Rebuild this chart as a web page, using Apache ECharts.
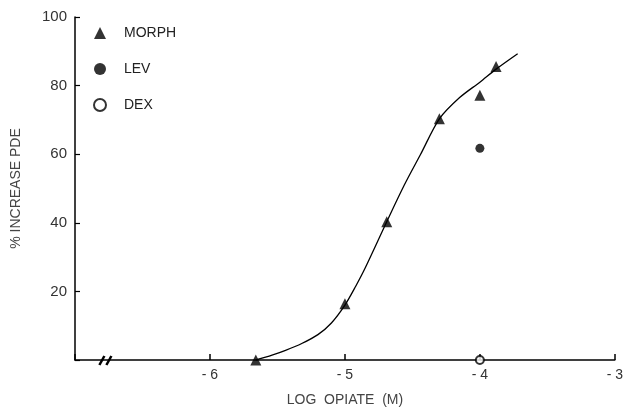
<!DOCTYPE html>
<html><head><meta charset="utf-8">
<script src="https://cdn.jsdelivr.net/npm/echarts@6/dist/echarts.min.js"></script>
<style>html,body{margin:0;padding:0;background:#fff}#c{width:626px;height:412px}</style>
</head><body><div id="c"></div>
<script>
var xTicks = [-7, -6, -5, -4, -3];
var yTicks = [0, 20, 40, 60, 80, 100];
var morphX = [-5.66, -5.0, -4.69, -4.30, -4.0, -3.88];
var morphY = [0, 16.4, 40.3, 70.3, 77.2, 85.6];
var levX = [-4.0];
var levY = [61.7];
var dexX = [-4.0];
var dexY = [0];
var curveX = [-5.66, -5.54, -5.44, -5.32, -5.20, -5.10, -5.0, -4.92, -4.85, -4.69, -4.56, -4.44, -4.30, -4.15, -4.0, -3.88, -3.72];
var curveY = [0, 1.4, 2.8, 4.8, 7.4, 10.8, 16.0, 21.5, 26.8, 40.3, 51, 59.9, 70.3, 76.5, 81, 84.8, 89.3];
var breakX = [-6.76];

function zip(a, b) { return a.map(function (v, i) { return [v, b[i]]; }); }

var font = 'Liberation Sans';
var chart = echarts.init(document.getElementById('c'));
chart.setOption({
  animation: false,
  textStyle: { fontFamily: font },
  grid: { left: 75, right: 3, top: 17, bottom: 48 },
  legend: {
    orient: 'vertical', left: 88, top: 21, itemGap: 22, itemWidth: 12, itemHeight: 12,
    textStyle: { fontFamily: font, fontSize: 14, color: '#222', padding: [0, 0, 0, 13] },
    data: [
      { name: 'MORPH', icon: 'triangle', itemStyle: { color: '#000' } },
      { name: 'LEV', icon: 'circle', itemStyle: { color: '#000' } },
      { name: 'DEX', icon: 'emptyCircle', itemStyle: { color: '#000', borderColor: '#000', borderWidth: 1.5 } }
    ]
  },
  xAxis: {
    type: 'value', min: xTicks[0], max: xTicks[xTicks.length - 1], interval: 1,
    name: 'LOG  OPIATE  (M)', nameLocation: 'middle', nameGap: 33,
    nameTextStyle: { fontFamily: font, fontSize: 14, color: '#444' },
    axisLine: { lineStyle: { color: '#000', width: 1.5 } },
    axisTick: { inside: true, length: 6, lineStyle: { color: '#000', width: 1.5 } },
    axisLabel: { fontFamily: font, fontSize: 14, color: '#333', margin: 8,
      formatter: function (v) { return v === -7 ? '' : '- ' + Math.abs(v); } },
    splitLine: { show: false }
  },
  yAxis: {
    type: 'value', min: 0, max: 100, interval: 20,
    name: '% INCREASE PDE', nameLocation: 'middle', nameGap: 52, nameRotate: 90,
    nameTextStyle: { fontFamily: font, fontSize: 14, color: '#444' },
    axisLine: { show: true, lineStyle: { color: '#000', width: 1.5 } },
    axisTick: { inside: true, length: 5, lineStyle: { color: '#000', width: 1.2 } },
    axisLabel: { fontFamily: font, fontSize: 15, color: '#333', margin: 8,
      formatter: function (v) { return v === 0 ? '' : v; } },
    splitLine: { show: false }
  },
  series: [
    { name: 'curve', type: 'line', smooth: 0.3, symbol: 'none', data: zip(curveX, curveY),
      lineStyle: { color: '#000', width: 1.3 }, z: 2 },
    { name: 'MORPH', type: 'scatter', symbol: 'triangle', symbolSize: 11, data: zip(morphX, morphY),
      itemStyle: { color: '#000' }, z: 3 },
    { name: 'LEV', type: 'scatter', symbol: 'circle', symbolSize: 9, data: zip(levX, levY),
      itemStyle: { color: '#000' }, z: 3 },
    { name: 'DEX', type: 'scatter', symbol: 'emptyCircle', symbolSize: 8, data: zip(dexX, dexY),
      itemStyle: { color: '#000', borderColor: '#000', borderWidth: 1.5 }, z: 4 },
    { name: 'break', type: 'custom', data: breakX.map(function (x) { return [x, 0]; }), z: 5,
      renderItem: function (params, api) {
        var p = api.coord([api.value(0), api.value(1)]);
        return { type: 'group', children: [
          { type: 'line', shape: { x1: p[0] - 8, y1: p[1] + 5, x2: p[0] - 3, y2: p[1] - 4 },
            style: { stroke: '#000', lineWidth: 2.5 } },
          { type: 'line', shape: { x1: p[0] - 1, y1: p[1] + 5, x2: p[0] + 4, y2: p[1] - 4 },
            style: { stroke: '#000', lineWidth: 2.5 } }
        ] };
      } }
  ]
});
</script></body></html>
